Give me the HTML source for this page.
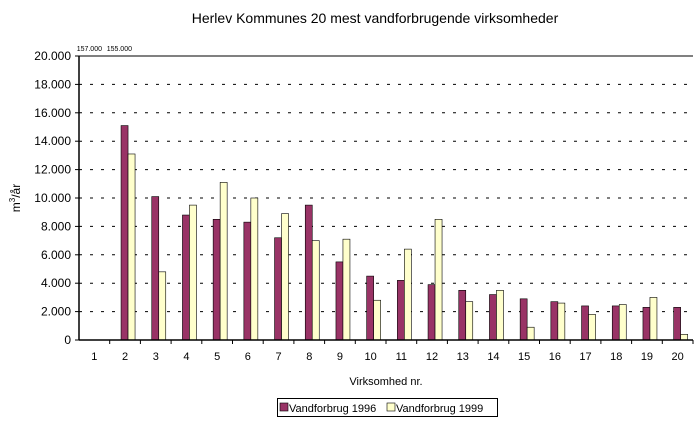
<!DOCTYPE html>
<html><head><meta charset="utf-8"><style>
body{margin:0;background:#fff;}
svg{font-family:"Liberation Sans",Arial,sans-serif;}
</style></head><body>
<svg width="700" height="423">
<text x="375" y="23" text-anchor="middle" font-size="14">Herlev Kommunes 20 mest vandforbrugende virksomheder</text>
<g id="grid"></g><g id="bars"></g><g id="axes"></g>
<text transform="translate(20,198) rotate(-90)" text-anchor="middle" font-size="12">m<tspan dy="-5" font-size="8">3</tspan><tspan dy="5">/år</tspan></text>
<text x="386" y="385" text-anchor="middle" font-size="11">Virksomhed nr.</text>
<g>
<rect x="277.5" y="398.5" width="220" height="18" fill="#fff" stroke="#000"/>
<rect x="280" y="403" width="8" height="8" fill="#993366" stroke="#000" stroke-width="0.6"/>
<text x="289" y="412" font-size="11">Vandforbrug 1996</text>
<rect x="387" y="403" width="8" height="8" fill="#ffffcc" stroke="#000" stroke-width="0.6"/>
<text x="396" y="412" font-size="11">Vandforbrug 1999</text>
</g>
</svg>
<script>
const categories=["1","2","3","4","5","6","7","8","9","10","11","12","13","14","15","16","17","18","19","20"];
const v1996=[157000,15100,10100,8800,8500,8300,7200,9500,5500,4500,4200,3900,3500,3200,2900,2700,2400,2400,2300,2300];
const v1999=[155000,13100,4800,9500,11100,10000,8900,7000,7100,2800,6400,8500,2700,3500,900,2600,1800,2500,3000,400];
const yTicks=[0,2000,4000,6000,8000,10000,12000,14000,16000,18000,20000];
const yTickLabels=["0","2.000","4.000","6.000","8.000","10.000","12.000","14.000","16.000","18.000","20.000"];
const NS="http://www.w3.org/2000/svg";
const X0=79,X1=693,Y0=340,Y1=56,YMAX=20000;
const cw=(X1-X0)/categories.length;
const y=v=>Y0-(Math.min(v,YMAX)/YMAX)*(Y0-Y1);
function mk(t,a,p){const e=document.createElementNS(NS,t);for(const k in a)e.setAttribute(k,a[k]);p.appendChild(e);return e;}
const grid=document.getElementById('grid'),bars=document.getElementById('bars'),axes=document.getElementById('axes');
yTicks.forEach((t,i)=>{
 if(t>0){const g=mk('line',{x1:X0,x2:X1,y1:y(t),y2:y(t),stroke:'#000','stroke-dasharray':'3,8','stroke-width':1},grid);
 
 }
 const tx=mk('text',{x:X0-8,y:y(t)+4,'text-anchor':'end','font-size':12},axes);tx.textContent=yTickLabels[i];
 
 
 mk('line',{x1:X0-4,x2:X0,y1:y(t),y2:y(t),stroke:'#000'},axes);
});
const bw=7;
categories.forEach((c,i)=>{
 const cx=X0+cw*(i+0.5)+3;
 if(v1996[i]<=YMAX){const r=mk('rect',{x:cx-bw,y:y(v1996[i]),width:bw,height:Y0-y(v1996[i]),fill:'#993366',stroke:'#000','stroke-width':0.6},bars);
 
 }
 else{const t=mk('text',{x:cx-8,y:51,'text-anchor':'middle','font-size':7},axes);t.textContent=v1996[i].toLocaleString('de-DE').replace(/,/g,'.');
 
 }
 if(v1999[i]<=YMAX){const r=mk('rect',{x:cx,y:y(v1999[i]),width:bw,height:Y0-y(v1999[i]),fill:'#ffffcc',stroke:'#000','stroke-width':0.6},bars);
 
 }
 else{const t=mk('text',{x:cx+22,y:51,'text-anchor':'middle','font-size':7},axes);t.textContent=v1999[i].toLocaleString('de-DE').replace(/,/g,'.');
 
 }
 const lx=mk('text',{x:X0+cw*(i+0.5),y:360,'text-anchor':'middle','font-size':11},axes);lx.textContent=c;
 
 
 mk('line',{x1:X0+cw*(i+1),x2:X0+cw*(i+1),y1:Y0,y2:Y0+4,stroke:'#000'},axes);
});
mk('line',{x1:X0,x2:X0,y1:Y1,y2:Y0,stroke:'#000','stroke-width':1.5},axes);
mk('line',{x1:X0,x2:X1,y1:Y0,y2:Y0,stroke:'#000','stroke-width':1.5},axes);
mk('line',{x1:X0,x2:X1,y1:Y1,y2:Y1,stroke:'#000','stroke-width':1},axes);
</script>
</body></html>
